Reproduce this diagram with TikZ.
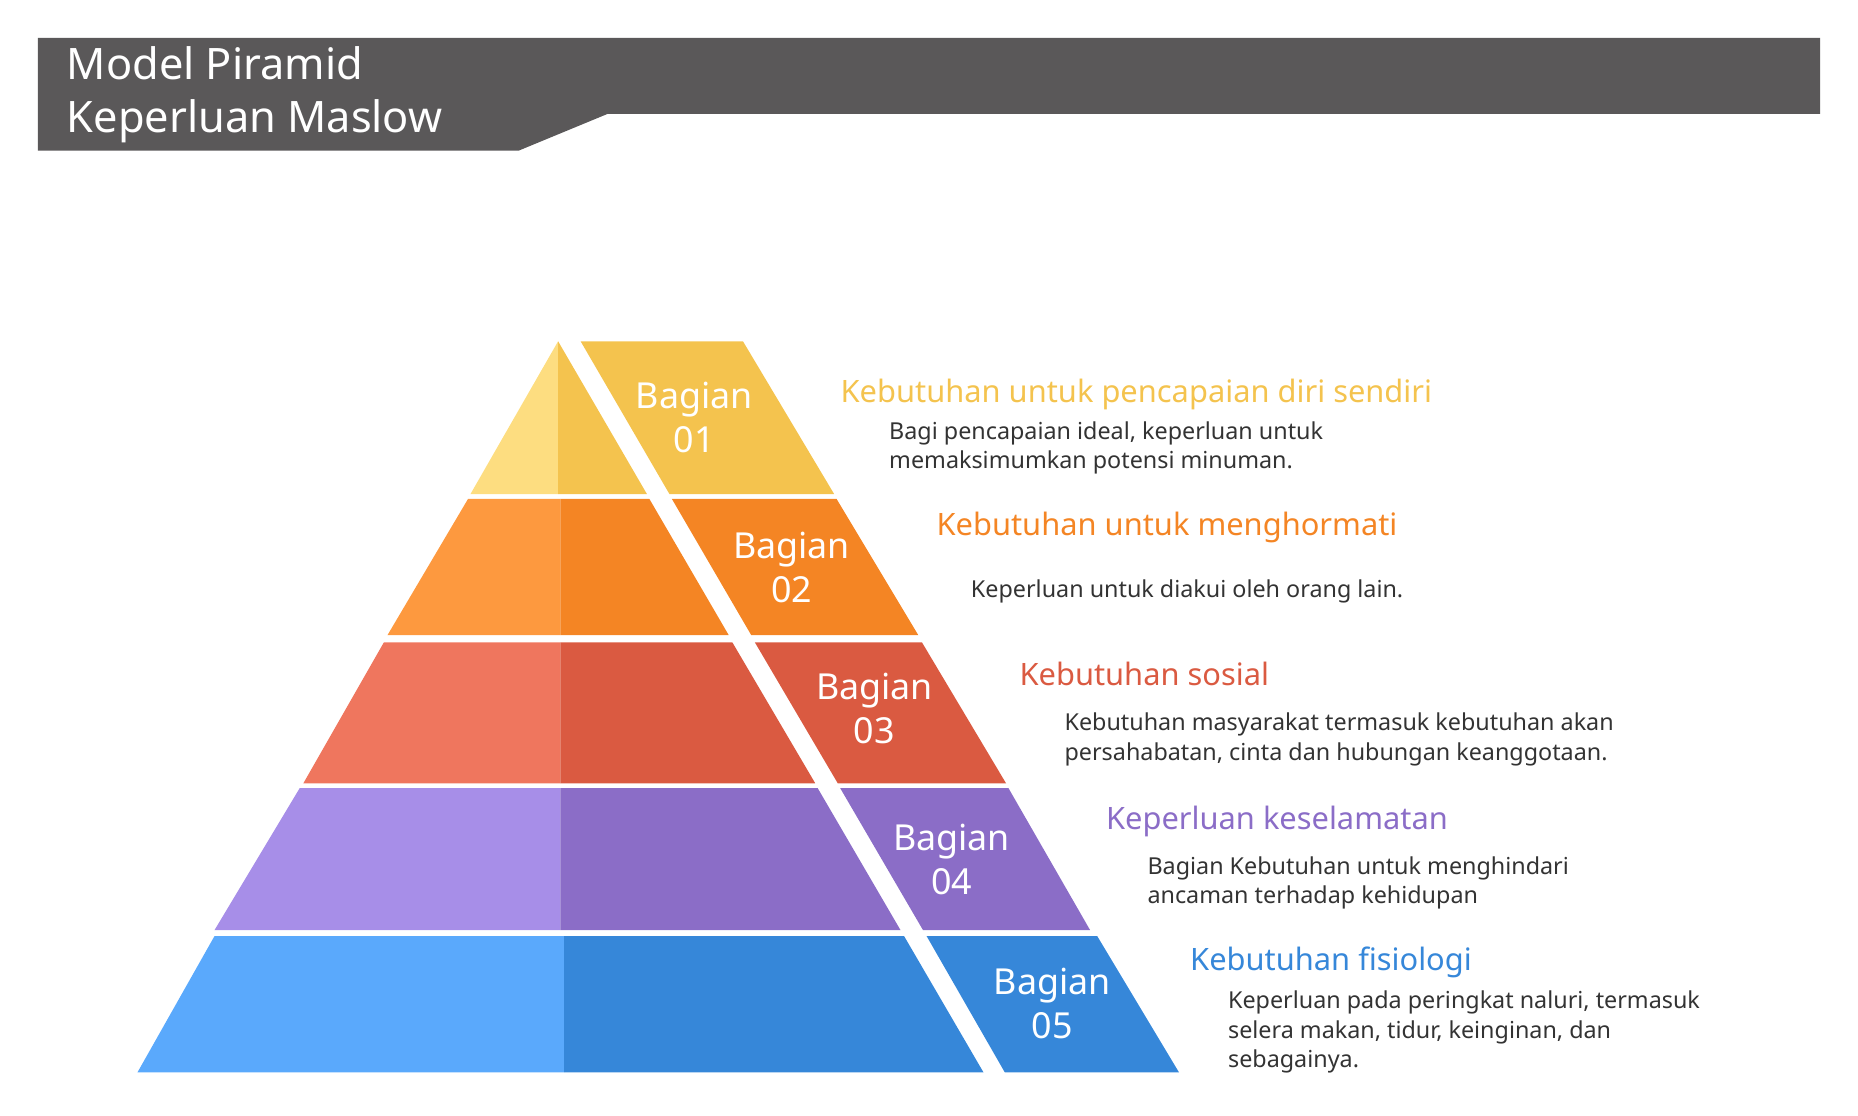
\documentclass[tikz,border=0pt]{standalone}
\usepackage{fontspec}
\setmainfont{Noto Sans}
\usetikzlibrary{positioning}
\definecolor{hdr}{HTML}{5A5859}
\definecolor{yl}{HTML}{FDDD80}\definecolor{yd}{HTML}{F4C34E}
\definecolor{ol}{HTML}{FD993F}\definecolor{od}{HTML}{F48524}
\definecolor{rl}{HTML}{EF765E}\definecolor{rd}{HTML}{DA5A41}
\definecolor{pl}{HTML}{A78EE8}\definecolor{pd}{HTML}{8B6DC7}
\definecolor{bl}{HTML}{5AA9FC}\definecolor{bd}{HTML}{3687D9}
\definecolor{txt}{HTML}{333333}
\tikzset{
	bagian/.style={text=white, align=center, font=\fontsize{8.6}{10.6}\selectfont},
	judul/.style={anchor=west, font=\fontsize{7.4}{9}\selectfont},
	ket/.style={anchor=west, align=left, text=txt, font=\fontsize{5.6}{7.1}\selectfont}
}
\begin{document}
\begin{tikzpicture}[x=0.01cm,y=-0.01cm]
	\useasboundingbox (0,0) rectangle (1568,941);
	
	% HEADER
	\fill[hdr] (32,32) -- (1536,32) -- (1536,96) -- (513,96) -- (438,127) -- (32,127) -- cycle;
	\node[anchor=west, text=white, align=left, font=\fontsize{10.4}{12.6}\selectfont\bfseries] (title) at (44,80) {Model Piramid\\Keperluan Maslow};
	
	% BAND 1
	\fill[yl] (471,288) -- (471,417) -- (397,417) -- cycle;
	\fill[yd] (471,288) -- (546,417) -- (471,417) -- cycle;
	\fill[yd] (490,288) -- (627,288) -- (704,417) -- (565,417) -- cycle;
	\node[bagian] (b1) at (586,352) {Bagian\\01};
	\node[judul, text=yd] (j1) at (697,333) {Kebutuhan untuk pencapaian diri sendiri};
	\node[ket] (k1) at (738,378) {Bagi pencapaian ideal, keperluan untuk\\memaksimumkan potensi minuman.};
	
	% BAND 2
	\fill[ol] (395,421) -- (473,421) -- (473,536) -- (327,536) -- cycle;
	\fill[od] (473,421) -- (548,421) -- (615,536) -- (473,536) -- cycle;
	\fill[od] (567,421) -- (706,421) -- (775,536) -- (634,536) -- cycle;
	\node[bagian] (b2) at (668,479) {Bagian\\02};
	\node[judul, text=od, font=\fontsize{7.4}{9}\selectfont\bfseries] (j2) at (778,445) {Kebutuhan untuk menghormati};
	\node[ket] (k2) at (807,499) {Keperluan untuk diakui oleh orang lain.};
	
	% BAND 3
	\fill[rl] (324,542) -- (473,542) -- (473,661) -- (256,661) -- cycle;
	\fill[rd] (473,542) -- (618,542) -- (688,661) -- (473,661) -- cycle;
	\fill[rd] (637,542) -- (778,542) -- (849,661) -- (707,661) -- cycle;
	\node[bagian] (b3) at (738,598) {Bagian\\03};
	\node[judul, text=rd, font=\fontsize{7.4}{9}\selectfont\bfseries] (j3) at (848,569) {Kebutuhan sosial};
	\node[ket] (k3) at (886,624) {Kebutuhan masyarakat termasuk kebutuhan akan\\persahabatan, cinta dan hubungan keanggotaan.};
	
	% BAND 4
	\fill[pl] (253,665) -- (473,665) -- (473,785) -- (181,785) -- cycle;
	\fill[pd] (473,665) -- (690,665) -- (760,785) -- (473,785) -- cycle;
	\fill[pd] (709,665) -- (851,665) -- (920,785) -- (779,785) -- cycle;
	\node[bagian] (b4) at (803,725) {Bagian\\04};
	\node[judul, text=pd, font=\fontsize{7.4}{9}\selectfont\bfseries] (j4) at (921,693) {Keperluan keselamatan};
	\node[ket] (k4) at (956,745) {Bagian Kebutuhan untuk menghindari\\ancaman terhadap kehidupan};
	
	% BAND 5
	\fill[bl] (181,790) -- (476,790) -- (476,905) -- (116,905) -- cycle;
	\fill[bd] (476,790) -- (763,790) -- (830,905) -- (476,905) -- cycle;
	\fill[bd] (782,790) -- (926,790) -- (995,905) -- (848,905) -- cycle;
	\node[bagian] (b5) at (888,847) {Bagian\\05};
	\node[judul, text=bd] (j5) at (992,812) {Kebutuhan fisiologi};
	\node[ket] (k5) at (1024,871) {Keperluan pada peringkat naluri, termasuk\\selera makan, tidur, keinginan, dan\\sebagainya.};
\end{tikzpicture}
\end{document}
